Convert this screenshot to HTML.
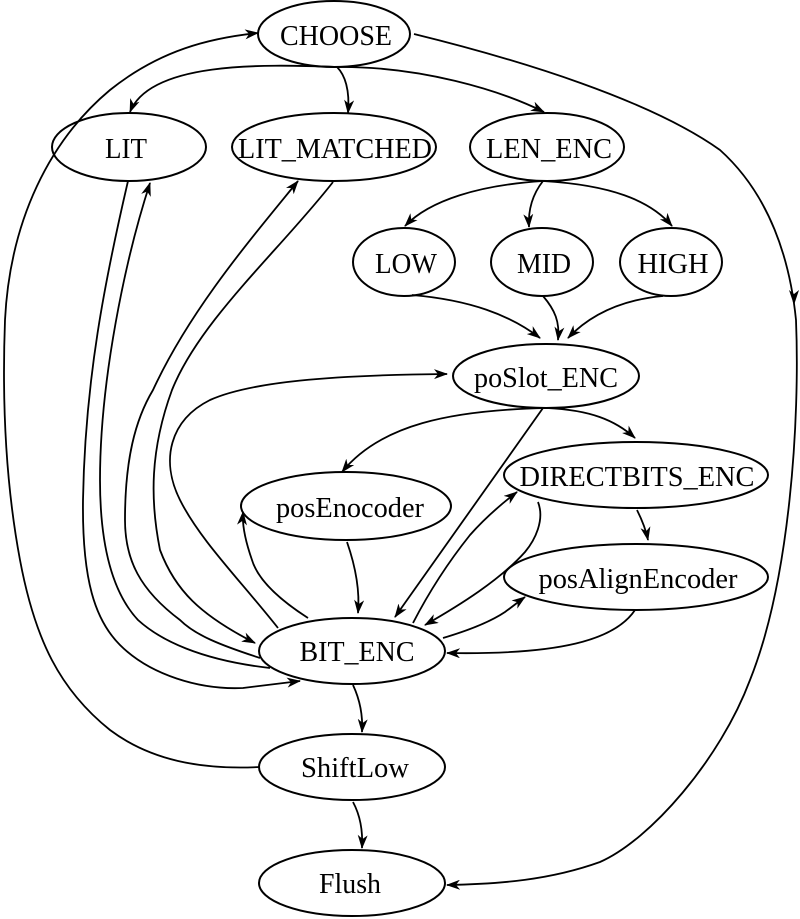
<!DOCTYPE html>
<html><head><meta charset="utf-8"><style>
html,body{margin:0;padding:0;background:#fff}
svg{display:block}
text{font-family:"Liberation Serif",serif;font-size:29px;fill:#000}
</style></head><body>
<svg width="800" height="919" viewBox="0 0 800 919" xmlns="http://www.w3.org/2000/svg">
<defs>
<marker id="a" markerWidth="14" markerHeight="10" refX="13" refY="5" orient="auto" markerUnits="userSpaceOnUse">
<path d="M0,0 L14,5 L0,10 L4,5 z" fill="#000"/>
</marker>
</defs>
<g fill="none" stroke="#000" stroke-width="2">
<ellipse cx="334" cy="34" rx="76" ry="33"/>
<ellipse cx="129" cy="147" rx="77" ry="34"/>
<ellipse cx="334" cy="147" rx="102" ry="34"/>
<ellipse cx="547" cy="147" rx="77" ry="34"/>
<ellipse cx="404" cy="262" rx="51" ry="34"/>
<ellipse cx="542" cy="262" rx="51" ry="34"/>
<ellipse cx="671" cy="262" rx="51" ry="34"/>
<ellipse cx="546" cy="376" rx="93" ry="32"/>
<ellipse cx="636" cy="475" rx="132" ry="33"/>
<ellipse cx="346" cy="506" rx="105" ry="34"/>
<ellipse cx="636" cy="577" rx="132" ry="33"/>
<ellipse cx="352" cy="651" rx="93" ry="33"/>
<ellipse cx="352" cy="767" rx="93" ry="33"/>
<ellipse cx="352" cy="883" rx="93" ry="33"/>
</g>
<g fill="none" stroke="#000" stroke-width="1.8" marker-end="url(#a)">
<path d="M337,67 C260,64 150,62 130,112"/>
<path d="M337,67 C345,75 350,90 348,113"/>
<path d="M337,67 C420,66 500,90 544,112"/>
<path d="M260,767 C200,770 150,760 110,730 C60,690 35,640 20,560 C5,480 2,400 5,320 C10,220 50,140 110,90 C160,50 210,38 258,33"/>
<path d="M414,34 C520,60 650,100 720,150 C770,195 790,260 796,320 C800,420 790,580 750,680 C720,760 650,840 600,862 C550,880 500,884 447,885"/>
<path d="M128,181 C105,280 85,380 83,500 C82,580 95,620 120,645 C150,675 200,690 243,688 L300,681"/>
<path d="M270,668 C200,660 160,640 138,620 C110,590 100,540 100,480 C100,380 125,260 150,183"/>
<path d="M260,658 C220,645 195,635 180,620 C140,590 125,560 125,520 C125,460 135,420 153,390 C190,310 250,240 298,181"/>
<path d="M333,182 C280,250 200,320 172,390 C150,450 150,500 160,550 C175,590 200,615 255,643"/>
<path d="M278,628 C240,580 200,540 180,500 C160,460 170,420 210,400 C250,382 330,375 447,374"/>
<path d="M543,181 C480,185 430,200 405,226"/>
<path d="M543,181 C532,195 528,210 529,227"/>
<path d="M543,181 C610,185 650,200 672,226"/>
<path d="M412,295 C470,300 510,315 540,338"/>
<path d="M543,296 C555,310 560,322 558,340"/>
<path d="M663,296 C620,300 590,315 568,338"/>
<path d="M547,408 C450,410 380,425 342,472"/>
<path d="M547,408 C590,410 615,420 635,438"/>
<path d="M543,408 L395,617"/>
<path d="M413,623 C430,590 450,560 470,535 C485,518 500,505 517,492"/>
<path d="M538,502 C545,520 535,540 525,552 C500,580 460,605 425,625"/>
<path d="M637,510 C642,520 646,530 648,540"/>
<path d="M443,638 C470,630 490,622 505,612 C512,607 518,602 525,597"/>
<path d="M635,610 C615,640 560,655 447,653"/>
<path d="M308,618 C280,600 258,580 252,560 C245,540 242,525 243,512"/>
<path d="M347,542 C355,565 360,590 358,613"/>
<path d="M353,685 C360,700 363,715 362,732"/>
<path d="M353,802 C360,815 363,830 362,848"/>
</g>
<polygon points="794,305 789,290 794,294 799,290" fill="#000"/>
<g text-anchor="middle" lengthAdjust="spacingAndGlyphs">
<text x="336" y="45" textLength="112" lengthAdjust="spacingAndGlyphs">CHOOSE</text>
<text x="126" y="158" textLength="42" lengthAdjust="spacingAndGlyphs">LIT</text>
<text x="335" y="158" textLength="194" lengthAdjust="spacingAndGlyphs">LIT_MATCHED</text>
<text x="549" y="158" textLength="126" lengthAdjust="spacingAndGlyphs">LEN_ENC</text>
<text x="406" y="273" textLength="62" lengthAdjust="spacingAndGlyphs">LOW</text>
<text x="544" y="273" textLength="54" lengthAdjust="spacingAndGlyphs">MID</text>
<text x="673" y="273" textLength="71" lengthAdjust="spacingAndGlyphs">HIGH</text>
<text x="546" y="387" textLength="144" lengthAdjust="spacingAndGlyphs">poSlot_ENC</text>
<text x="637" y="486" textLength="235" lengthAdjust="spacingAndGlyphs">DIRECTBITS_ENC</text>
<text x="350" y="517" textLength="148" lengthAdjust="spacingAndGlyphs">posEnocoder</text>
<text x="638" y="588" textLength="199" lengthAdjust="spacingAndGlyphs">posAlignEncoder</text>
<text x="357" y="661" textLength="115" lengthAdjust="spacingAndGlyphs">BIT_ENC</text>
<text x="355" y="777" textLength="108" lengthAdjust="spacingAndGlyphs">ShiftLow</text>
<text x="350" y="893" textLength="62" lengthAdjust="spacingAndGlyphs">Flush</text>
</g>
</svg>
</body></html>
